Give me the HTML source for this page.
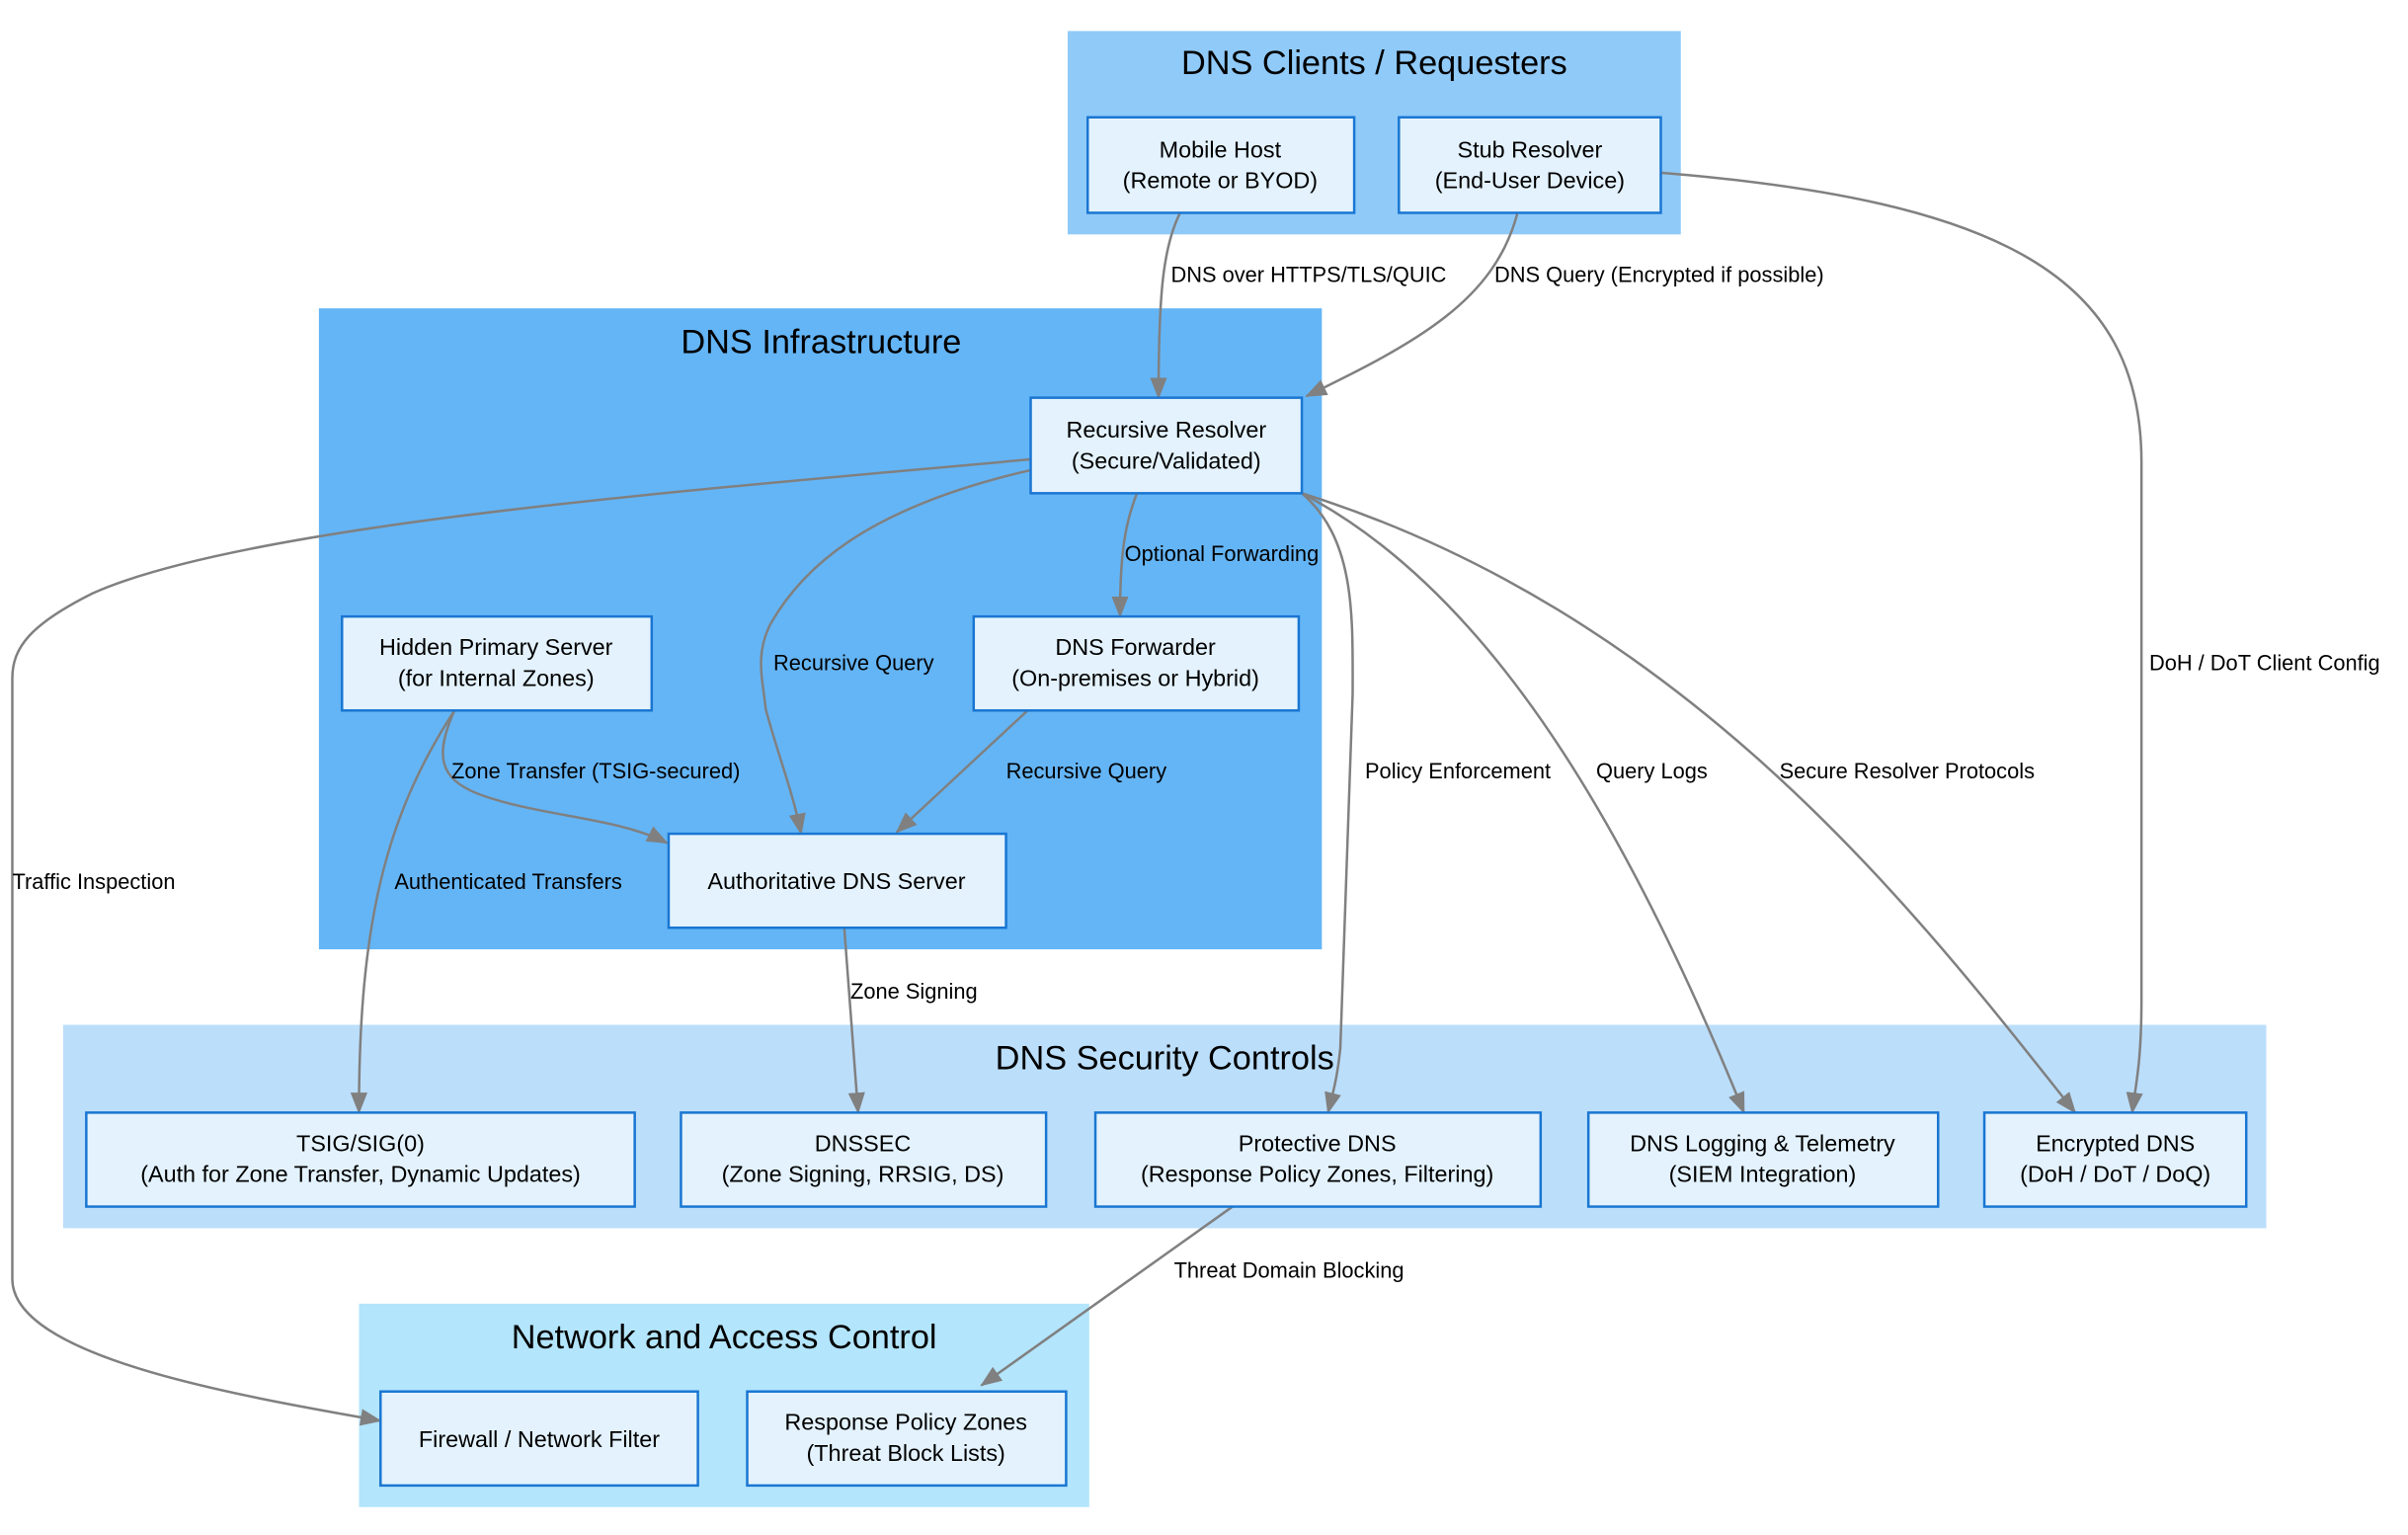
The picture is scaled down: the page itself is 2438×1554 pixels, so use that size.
<!DOCTYPE html>
<html><head><meta charset="utf-8"><style>
html,body{margin:0;padding:0;background:#fff;}
svg{display:block;}
text{font-family:"Liberation Sans",Arial,sans-serif;fill:#000;}
.n{fill:#E3F2FD;stroke:#1976D2;stroke-width:1.6;}
.e{fill:none;stroke:#808080;stroke-width:1.6;}
.nt{font-size:15px;text-anchor:middle;}
.ct{font-size:22px;text-anchor:middle;}
.el{font-size:14px;}
</style></head><body>
<svg width="2438" height="1554" viewBox="0 0 1563 996" xmlns="http://www.w3.org/2000/svg">
<defs><marker id="a" markerWidth="10" markerHeight="10" refX="9" refY="5" orient="auto" markerUnits="userSpaceOnUse" viewBox="0 0 10 10"><path d="M0,0 L10,5 L0,10 z" fill="#808080"/></marker>
<marker id="b" markerWidth="14" markerHeight="14" refX="13" refY="7" orient="auto" markerUnits="userSpaceOnUse" viewBox="0 0 14 14"><path d="M0,1.5 L14,7 L0,12.5 z" fill="#808080"/></marker></defs>
<!-- clusters -->
<rect x="693" y="20" width="398" height="132" fill="#90CAF9"/>
<text class="ct" x="892" y="48">DNS Clients / Requesters</text>
<rect x="207" y="200" width="651" height="416" fill="#64B5F6"/>
<text class="ct" x="533" y="229">DNS Infrastructure</text>
<rect x="41" y="665" width="1430" height="132" fill="#BBDEFB"/>
<text class="ct" x="756" y="694">DNS Security Controls</text>
<rect x="233" y="846" width="474" height="132" fill="#B3E5FC"/>
<text class="ct" x="470" y="875">Network and Access Control</text>
<!-- edges -->
<path class="e" marker-end="url(#b)" d="M766,138 C755,160 752,190 752,258"/>
<path class="e" marker-end="url(#b)" d="M985,138 C970,195 920,222 848,257"/>
<path class="e" marker-end="url(#b)" d="M1078,112 C1300,130 1390,180 1390,300 L1390,650 C1390,690 1386,705 1384,722"/>
<path class="e" marker-end="url(#b)" d="M669,298 C450,318 160,340 60,385 C20,405 8,420 8,440 L8,830 C8,880 150,905 247,922"/>
<path class="e" marker-end="url(#b)" d="M669,305 C560,330 520,370 500,405 C490,425 495,440 497,460 C505,490 515,515 520,541"/>
<path class="e" marker-end="url(#b)" d="M738,320 C730,340 727,360 727,400"/>
<path class="e" marker-end="url(#b)" d="M667,461 L582,540"/>
<path class="e" marker-end="url(#b)" d="M295,461 C282,490 285,505 310,515 C350,530 400,530 433,547"/>
<path class="e" marker-end="url(#b)" d="M295,461 C250,530 233,600 233,722"/>
<path class="e" marker-end="url(#b)" d="M548,602 L557,722"/>
<path class="e" marker-end="url(#b)" d="M845,320 C880,350 878,400 878,450 L870,680 C868,700 865,710 862,722"/>
<path class="e" marker-end="url(#b)" d="M845,320 C960,380 1050,520 1132,722"/>
<path class="e" marker-end="url(#b)" d="M845,320 C1100,400 1250,600 1347,722"/>
<path class="e" marker-end="url(#b)" d="M800,783 L637,899"/>
<!-- edge labels -->
<text class="el" x="760" y="183">DNS over HTTPS/TLS/QUIC</text>
<text class="el" x="970" y="183">DNS Query (Encrypted if possible)</text>
<text class="el" x="1395" y="435">DoH / DoT Client Config</text>
<text class="el" x="8" y="577">Traffic Inspection</text>
<text class="el" x="502" y="435">Recursive Query</text>
<text class="el" x="730" y="364">Optional Forwarding</text>
<text class="el" x="653" y="505">Recursive Query</text>
<text class="el" x="293" y="505">Zone Transfer (TSIG-secured)</text>
<text class="el" x="256" y="577">Authenticated Transfers</text>
<text class="el" x="552" y="648">Zone Signing</text>
<text class="el" x="886" y="505">Policy Enforcement</text>
<text class="el" x="1036" y="505">Query Logs</text>
<text class="el" x="1155" y="505">Secure Resolver Protocols</text>
<text class="el" x="762" y="829">Threat Domain Blocking</text>
<!-- nodes -->
<rect class="n" x="706" y="76" width="173" height="62"/>
<text class="nt" x="792" y="102">Mobile Host</text><text class="nt" x="792" y="122">(Remote or BYOD)</text>
<rect class="n" x="908" y="76" width="170" height="62"/>
<text class="nt" x="993" y="102">Stub Resolver</text><text class="nt" x="993" y="122">(End-User Device)</text>
<rect class="n" x="669" y="258" width="176" height="62"/>
<text class="nt" x="757" y="284">Recursive Resolver</text><text class="nt" x="757" y="304">(Secure/Validated)</text>
<rect class="n" x="222" y="400" width="201" height="61"/>
<text class="nt" x="322" y="425">Hidden Primary Server</text><text class="nt" x="322" y="445">(for Internal Zones)</text>
<rect class="n" x="632" y="400" width="211" height="61"/>
<text class="nt" x="737" y="425">DNS Forwarder</text><text class="nt" x="737" y="445">(On-premises or Hybrid)</text>
<rect class="n" x="434" y="541" width="219" height="61"/>
<text class="nt" x="543" y="577">Authoritative DNS Server</text>
<rect class="n" x="56" y="722" width="356" height="61"/>
<text class="nt" x="234" y="747">TSIG/SIG(0)</text><text class="nt" x="234" y="767">(Auth for Zone Transfer, Dynamic Updates)</text>
<rect class="n" x="442" y="722" width="237" height="61"/>
<text class="nt" x="560" y="747">DNSSEC</text><text class="nt" x="560" y="767">(Zone Signing, RRSIG, DS)</text>
<rect class="n" x="711" y="722" width="289" height="61"/>
<text class="nt" x="855" y="747">Protective DNS</text><text class="nt" x="855" y="767">(Response Policy Zones, Filtering)</text>
<rect class="n" x="1031" y="722" width="227" height="61"/>
<text class="nt" x="1144" y="747">DNS Logging &amp; Telemetry</text><text class="nt" x="1144" y="767">(SIEM Integration)</text>
<rect class="n" x="1288" y="722" width="170" height="61"/>
<text class="nt" x="1373" y="747">Encrypted DNS</text><text class="nt" x="1373" y="767">(DoH / DoT / DoQ)</text>
<rect class="n" x="247" y="903" width="206" height="61"/>
<text class="nt" x="350" y="939">Firewall / Network Filter</text>
<rect class="n" x="485" y="903" width="207" height="61"/>
<text class="nt" x="588" y="928">Response Policy Zones</text><text class="nt" x="588" y="948">(Threat Block Lists)</text>
</svg>
</body></html>
